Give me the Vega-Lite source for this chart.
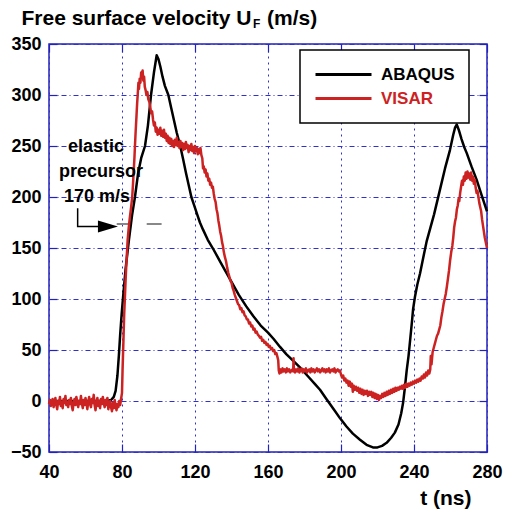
{
  "$schema": "https://vega.github.io/schema/vega-lite/v6.json",
  "width": 438,
  "height": 408,
  "autosize": {"type": "none"},
  "padding": {"left": 49, "top": 44, "right": 25, "bottom": 62},
  "background": "white",
  "config": {
    "font": "Liberation Sans",
    "view": {"stroke": "#2222bb", "strokeWidth": 1.5},
    "axis": {"labelFont": "Liberation Sans", "titleFont": "Liberation Sans"}
  },
  "datasets": {
    "curves": [
      {"t":40,"v":0,"s":"ABAQUS"},{"t":60,"v":0,"s":"ABAQUS"},{"t":72,"v":0,"s":"ABAQUS"},{"t":74,"v":1,"s":"ABAQUS"},{"t":75.5,"v":4,"s":"ABAQUS"},{"t":76.5,"v":10,"s":"ABAQUS"},{"t":77.5,"v":25,"s":"ABAQUS"},{"t":78.3,"v":45,"s":"ABAQUS"},{"t":79,"v":65,"s":"ABAQUS"},{"t":79.8,"v":85,"s":"ABAQUS"},{"t":80.5,"v":100,"s":"ABAQUS"},{"t":82,"v":130,"s":"ABAQUS"},{"t":83.8,"v":158,"s":"ABAQUS"},{"t":85.5,"v":182,"s":"ABAQUS"},{"t":87.1,"v":200,"s":"ABAQUS"},{"t":88.8,"v":223,"s":"ABAQUS"},{"t":90.5,"v":238,"s":"ABAQUS"},{"t":92.6,"v":250,"s":"ABAQUS"},{"t":94.2,"v":270,"s":"ABAQUS"},{"t":95.9,"v":300,"s":"ABAQUS"},{"t":97.5,"v":322,"s":"ABAQUS"},{"t":99,"v":339,"s":"ABAQUS"},{"t":100,"v":335,"s":"ABAQUS"},{"t":101,"v":328,"s":"ABAQUS"},{"t":102.2,"v":318,"s":"ABAQUS"},{"t":103.5,"v":309,"s":"ABAQUS"},{"t":105.4,"v":300,"s":"ABAQUS"},{"t":107,"v":287,"s":"ABAQUS"},{"t":108.5,"v":275,"s":"ABAQUS"},{"t":110,"v":263,"s":"ABAQUS"},{"t":111.8,"v":251,"s":"ABAQUS"},{"t":113.5,"v":237,"s":"ABAQUS"},{"t":115,"v":224,"s":"ABAQUS"},{"t":116.5,"v":212,"s":"ABAQUS"},{"t":118,"v":200,"s":"ABAQUS"},{"t":119.5,"v":192,"s":"ABAQUS"},{"t":121,"v":184,"s":"ABAQUS"},{"t":122.7,"v":175,"s":"ABAQUS"},{"t":124.4,"v":168,"s":"ABAQUS"},{"t":127,"v":158,"s":"ABAQUS"},{"t":130,"v":149,"s":"ABAQUS"},{"t":134,"v":136,"s":"ABAQUS"},{"t":139,"v":120,"s":"ABAQUS"},{"t":144,"v":104,"s":"ABAQUS"},{"t":148,"v":93,"s":"ABAQUS"},{"t":152,"v":83,"s":"ABAQUS"},{"t":156,"v":74,"s":"ABAQUS"},{"t":160,"v":67,"s":"ABAQUS"},{"t":163,"v":61,"s":"ABAQUS"},{"t":166.6,"v":53,"s":"ABAQUS"},{"t":170,"v":46,"s":"ABAQUS"},{"t":174,"v":39,"s":"ABAQUS"},{"t":177.5,"v":33,"s":"ABAQUS"},{"t":182,"v":24,"s":"ABAQUS"},{"t":186,"v":16,"s":"ABAQUS"},{"t":188.5,"v":11,"s":"ABAQUS"},{"t":192,"v":2,"s":"ABAQUS"},{"t":196,"v":-8,"s":"ABAQUS"},{"t":199.5,"v":-17,"s":"ABAQUS"},{"t":203,"v":-25,"s":"ABAQUS"},{"t":206.5,"v":-32,"s":"ABAQUS"},{"t":210.4,"v":-38,"s":"ABAQUS"},{"t":214,"v":-43,"s":"ABAQUS"},{"t":217.5,"v":-45.5,"s":"ABAQUS"},{"t":220,"v":-45.5,"s":"ABAQUS"},{"t":222.5,"v":-44,"s":"ABAQUS"},{"t":225,"v":-41,"s":"ABAQUS"},{"t":227.5,"v":-36,"s":"ABAQUS"},{"t":229.5,"v":-31,"s":"ABAQUS"},{"t":231.5,"v":-23,"s":"ABAQUS"},{"t":233,"v":-12,"s":"ABAQUS"},{"t":234,"v":-2,"s":"ABAQUS"},{"t":235,"v":13,"s":"ABAQUS"},{"t":236,"v":30,"s":"ABAQUS"},{"t":237,"v":44,"s":"ABAQUS"},{"t":238,"v":62,"s":"ABAQUS"},{"t":239,"v":80,"s":"ABAQUS"},{"t":239.5,"v":90,"s":"ABAQUS"},{"t":240.5,"v":102,"s":"ABAQUS"},{"t":241.8,"v":114,"s":"ABAQUS"},{"t":243.3,"v":125,"s":"ABAQUS"},{"t":245,"v":140,"s":"ABAQUS"},{"t":247,"v":157,"s":"ABAQUS"},{"t":249,"v":170,"s":"ABAQUS"},{"t":251,"v":183,"s":"ABAQUS"},{"t":254.2,"v":207,"s":"ABAQUS"},{"t":257,"v":228,"s":"ABAQUS"},{"t":259.7,"v":246,"s":"ABAQUS"},{"t":261.5,"v":261,"s":"ABAQUS"},{"t":262.5,"v":268,"s":"ABAQUS"},{"t":263.4,"v":271,"s":"ABAQUS"},{"t":264.5,"v":266,"s":"ABAQUS"},{"t":266,"v":257,"s":"ABAQUS"},{"t":267.5,"v":249,"s":"ABAQUS"},{"t":268.9,"v":243,"s":"ABAQUS"},{"t":271.5,"v":230,"s":"ABAQUS"},{"t":274.3,"v":217,"s":"ABAQUS"},{"t":277,"v":202,"s":"ABAQUS"},{"t":280,"v":186,"s":"ABAQUS"},
      {"t":40,"v":-3,"s":"VISAR"},{"t":40.5,"v":1,"s":"VISAR"},{"t":41,"v":-5,"s":"VISAR"},{"t":41.5,"v":-1,"s":"VISAR"},{"t":42,"v":2,"s":"VISAR"},{"t":42.5,"v":-6,"s":"VISAR"},{"t":43,"v":-2,"s":"VISAR"},{"t":43.5,"v":3,"s":"VISAR"},{"t":44,"v":-4,"s":"VISAR"},{"t":44.5,"v":-8,"s":"VISAR"},{"t":45,"v":0,"s":"VISAR"},{"t":45.5,"v":-3,"s":"VISAR"},{"t":46,"v":4,"s":"VISAR"},{"t":46.5,"v":-5,"s":"VISAR"},{"t":47,"v":-1,"s":"VISAR"},{"t":47.5,"v":-7,"s":"VISAR"},{"t":48,"v":2,"s":"VISAR"},{"t":48.5,"v":-2,"s":"VISAR"},{"t":49,"v":5,"s":"VISAR"},{"t":49.5,"v":-4,"s":"VISAR"},{"t":50,"v":-1,"s":"VISAR"},{"t":50.5,"v":-6,"s":"VISAR"},{"t":51,"v":1,"s":"VISAR"},{"t":51.5,"v":-3,"s":"VISAR"},{"t":52,"v":3,"s":"VISAR"},{"t":52.5,"v":-5,"s":"VISAR"},{"t":53,"v":-9,"s":"VISAR"},{"t":53.5,"v":-2,"s":"VISAR"},{"t":54,"v":2,"s":"VISAR"},{"t":54.5,"v":-4,"s":"VISAR"},{"t":55,"v":4,"s":"VISAR"},{"t":55.5,"v":-1,"s":"VISAR"},{"t":56,"v":-6,"s":"VISAR"},{"t":56.5,"v":0,"s":"VISAR"},{"t":57,"v":-3,"s":"VISAR"},{"t":57.5,"v":5,"s":"VISAR"},{"t":58,"v":-2,"s":"VISAR"},{"t":58.5,"v":-7,"s":"VISAR"},{"t":59,"v":1,"s":"VISAR"},{"t":59.5,"v":-4,"s":"VISAR"},{"t":60,"v":3,"s":"VISAR"},{"t":60.5,"v":-2,"s":"VISAR"},{"t":61,"v":-8,"s":"VISAR"},{"t":61.5,"v":-1,"s":"VISAR"},{"t":62,"v":4,"s":"VISAR"},{"t":62.5,"v":-3,"s":"VISAR"},{"t":63,"v":-6,"s":"VISAR"},{"t":63.5,"v":2,"s":"VISAR"},{"t":64,"v":-2,"s":"VISAR"},{"t":64.5,"v":6,"s":"VISAR"},{"t":65,"v":-4,"s":"VISAR"},{"t":65.5,"v":-9,"s":"VISAR"},{"t":66,"v":-1,"s":"VISAR"},{"t":66.5,"v":3,"s":"VISAR"},{"t":67,"v":-5,"s":"VISAR"},{"t":67.5,"v":0,"s":"VISAR"},{"t":68,"v":-7,"s":"VISAR"},{"t":68.5,"v":2,"s":"VISAR"},{"t":69,"v":-3,"s":"VISAR"},{"t":69.5,"v":4,"s":"VISAR"},{"t":70,"v":-2,"s":"VISAR"},{"t":70.5,"v":-6,"s":"VISAR"},{"t":71,"v":1,"s":"VISAR"},{"t":71.5,"v":-4,"s":"VISAR"},{"t":72,"v":3,"s":"VISAR"},{"t":72.5,"v":-8,"s":"VISAR"},{"t":73,"v":-3,"s":"VISAR"},{"t":73.5,"v":0,"s":"VISAR"},{"t":74,"v":-6,"s":"VISAR"},{"t":74.5,"v":-10,"s":"VISAR"},{"t":75,"v":-2,"s":"VISAR"},{"t":75.5,"v":-7,"s":"VISAR"},{"t":76,"v":1,"s":"VISAR"},{"t":76.5,"v":-5,"s":"VISAR"},{"t":77,"v":-9,"s":"VISAR"},{"t":77.5,"v":-3,"s":"VISAR"},{"t":78,"v":-6,"s":"VISAR"},{"t":78.5,"v":0,"s":"VISAR"},{"t":79,"v":-4,"s":"VISAR"},{"t":79.5,"v":2,"s":"VISAR"},
      {"t":80,"v":8,"s":"VISAR"},{"t":80.3,"v":30,"s":"VISAR"},{"t":80.8,"v":60,"s":"VISAR"},{"t":81.2,"v":85,"s":"VISAR"},{"t":81.6,"v":102,"s":"VISAR"},{"t":82,"v":120,"s":"VISAR"},{"t":82.4,"v":135,"s":"VISAR"},{"t":82.8,"v":148,"s":"VISAR"},{"t":83.1,"v":158,"s":"VISAR"},{"t":83.7,"v":170,"s":"VISAR"},{"t":84.3,"v":180,"s":"VISAR"},{"t":85,"v":190,"s":"VISAR"},{"t":85.6,"v":200,"s":"VISAR"},{"t":86,"v":212,"s":"VISAR"},{"t":86.4,"v":225,"s":"VISAR"},{"t":86.8,"v":238,"s":"VISAR"},{"t":87.1,"v":250,"s":"VISAR"},{"t":87.5,"v":265,"s":"VISAR"},{"t":87.9,"v":278,"s":"VISAR"},{"t":88.3,"v":292,"s":"VISAR"},{"t":88.6,"v":300,"s":"VISAR"},{"t":89,"v":312,"s":"VISAR"},{"t":89.3,"v":306,"s":"VISAR"},{"t":89.7,"v":316,"s":"VISAR"},{"t":90.1,"v":312,"s":"VISAR"},{"t":90.5,"v":322,"s":"VISAR"},{"t":90.9,"v":318,"s":"VISAR"},{"t":91.3,"v":324,"s":"VISAR"},{"t":91.7,"v":314,"s":"VISAR"},{"t":92.1,"v":318,"s":"VISAR"},{"t":92.5,"v":308,"s":"VISAR"},{"t":92.9,"v":305,"s":"VISAR"},{"t":93.4,"v":300,"s":"VISAR"},{"t":93.9,"v":303,"s":"VISAR"},{"t":94.4,"v":296,"s":"VISAR"},{"t":95,"v":293,"s":"VISAR"},{"t":95.5,"v":288,"s":"VISAR"},{"t":96,"v":282,"s":"VISAR"},{"t":96.5,"v":284,"s":"VISAR"},{"t":97,"v":276,"s":"VISAR"},{"t":97.5,"v":270,"s":"VISAR"},{"t":98,"v":273,"s":"VISAR"},{"t":98.5,"v":264,"s":"VISAR"},{"t":99,"v":268,"s":"VISAR"},{"t":99.5,"v":261,"s":"VISAR"},{"t":100,"v":266,"s":"VISAR"},{"t":100.5,"v":262,"s":"VISAR"},{"t":101,"v":268,"s":"VISAR"},{"t":101.5,"v":260,"s":"VISAR"},{"t":102,"v":265,"s":"VISAR"},{"t":102.5,"v":259,"s":"VISAR"},{"t":103,"v":266,"s":"VISAR"},{"t":103.5,"v":258,"s":"VISAR"},{"t":104,"v":262,"s":"VISAR"},{"t":104.5,"v":255,"s":"VISAR"},{"t":105,"v":260,"s":"VISAR"},{"t":105.5,"v":253,"s":"VISAR"},{"t":106,"v":258,"s":"VISAR"},{"t":106.5,"v":252,"s":"VISAR"},{"t":107,"v":257,"s":"VISAR"},{"t":107.5,"v":250,"s":"VISAR"},{"t":108,"v":255,"s":"VISAR"},{"t":108.5,"v":249,"s":"VISAR"},{"t":109,"v":256,"s":"VISAR"},{"t":109.5,"v":251,"s":"VISAR"},{"t":110,"v":258,"s":"VISAR"},{"t":110.5,"v":250,"s":"VISAR"},{"t":111,"v":254,"s":"VISAR"},{"t":111.5,"v":248,"s":"VISAR"},{"t":112,"v":255,"s":"VISAR"},{"t":112.5,"v":249,"s":"VISAR"},{"t":113,"v":253,"s":"VISAR"},{"t":113.5,"v":246,"s":"VISAR"},{"t":114,"v":252,"s":"VISAR"},{"t":114.5,"v":247,"s":"VISAR"},{"t":115,"v":254,"s":"VISAR"},{"t":115.5,"v":248,"s":"VISAR"},{"t":116,"v":251,"s":"VISAR"},{"t":116.5,"v":244,"s":"VISAR"},{"t":117,"v":250,"s":"VISAR"},{"t":117.5,"v":246,"s":"VISAR"},{"t":118,"v":252,"s":"VISAR"},{"t":118.5,"v":245,"s":"VISAR"},{"t":119,"v":249,"s":"VISAR"},{"t":119.5,"v":243,"s":"VISAR"},{"t":120,"v":250,"s":"VISAR"},{"t":120.5,"v":245,"s":"VISAR"},{"t":121,"v":248,"s":"VISAR"},{"t":121.5,"v":242,"s":"VISAR"},{"t":122,"v":247,"s":"VISAR"},{"t":122.5,"v":243,"s":"VISAR"},{"t":123,"v":248,"s":"VISAR"},{"t":123.5,"v":241,"s":"VISAR"},{"t":124,"v":238,"s":"VISAR"},{"t":124.4,"v":228,"s":"VISAR"},{"t":124.8,"v":230,"s":"VISAR"},{"t":125.3,"v":224,"s":"VISAR"},{"t":125.8,"v":227,"s":"VISAR"},{"t":126.3,"v":220,"s":"VISAR"},{"t":126.8,"v":223,"s":"VISAR"},{"t":127.3,"v":216,"s":"VISAR"},{"t":127.8,"v":218,"s":"VISAR"},{"t":128.3,"v":212,"s":"VISAR"},{"t":128.8,"v":214,"s":"VISAR"},{"t":129.3,"v":209,"s":"VISAR"},{"t":129.8,"v":210,"s":"VISAR"},{"t":130.3,"v":203,"s":"VISAR"},{"t":130.8,"v":198,"s":"VISAR"},{"t":131.3,"v":195,"s":"VISAR"},{"t":131.8,"v":188,"s":"VISAR"},{"t":132.3,"v":184,"s":"VISAR"},{"t":132.8,"v":177,"s":"VISAR"},{"t":133.3,"v":172,"s":"VISAR"},{"t":133.8,"v":166,"s":"VISAR"},{"t":134.3,"v":162,"s":"VISAR"},{"t":134.8,"v":156,"s":"VISAR"},{"t":135.3,"v":152,"s":"VISAR"},{"t":135.8,"v":146,"s":"VISAR"},{"t":136.4,"v":141,"s":"VISAR"},{"t":137,"v":137,"s":"VISAR"},{"t":137.6,"v":131,"s":"VISAR"},{"t":138.2,"v":126,"s":"VISAR"},{"t":138.8,"v":122,"s":"VISAR"},{"t":139.4,"v":118,"s":"VISAR"},{"t":140,"v":116,"s":"VISAR"},{"t":140.6,"v":111,"s":"VISAR"},{"t":141.2,"v":108,"s":"VISAR"},{"t":141.8,"v":104,"s":"VISAR"},{"t":142.4,"v":101,"s":"VISAR"},{"t":143,"v":98,"s":"VISAR"},{"t":143.6,"v":95,"s":"VISAR"},{"t":144.2,"v":94,"s":"VISAR"},{"t":144.8,"v":90,"s":"VISAR"},{"t":145.4,"v":91,"s":"VISAR"},{"t":146,"v":87,"s":"VISAR"},{"t":146.6,"v":88,"s":"VISAR"},{"t":147.2,"v":84,"s":"VISAR"},{"t":147.8,"v":83,"s":"VISAR"},{"t":148.4,"v":80,"s":"VISAR"},{"t":149,"v":80,"s":"VISAR"},{"t":149.6,"v":76,"s":"VISAR"},{"t":150.2,"v":77,"s":"VISAR"},{"t":150.8,"v":73,"s":"VISAR"},{"t":151.4,"v":74,"s":"VISAR"},{"t":152,"v":70,"s":"VISAR"},{"t":152.6,"v":71,"s":"VISAR"},{"t":153.2,"v":67,"s":"VISAR"},{"t":153.8,"v":68,"s":"VISAR"},{"t":154.4,"v":65,"s":"VISAR"},{"t":155,"v":64,"s":"VISAR"},{"t":155.6,"v":62,"s":"VISAR"},{"t":156.2,"v":63,"s":"VISAR"},{"t":156.8,"v":59,"s":"VISAR"},{"t":157.4,"v":60,"s":"VISAR"},{"t":158,"v":57,"s":"VISAR"},{"t":158.6,"v":58,"s":"VISAR"},{"t":159.2,"v":55,"s":"VISAR"},{"t":159.8,"v":56,"s":"VISAR"},{"t":160.4,"v":53,"s":"VISAR"},{"t":161,"v":54,"s":"VISAR"},{"t":161.6,"v":51,"s":"VISAR"},{"t":162.2,"v":52,"s":"VISAR"},{"t":162.8,"v":49,"s":"VISAR"},{"t":163.4,"v":50,"s":"VISAR"},{"t":164,"v":46,"s":"VISAR"},{"t":164.6,"v":47,"s":"VISAR"},{"t":165.2,"v":43,"s":"VISAR"},{"t":165.6,"v":40,"s":"VISAR"},{"t":165.9,"v":30,"s":"VISAR"},{"t":166.3,"v":27,"s":"VISAR"},
      {"t":166.8,"v":31,"s":"VISAR"},{"t":167.4,"v":28,"s":"VISAR"},{"t":168,"v":32,"s":"VISAR"},{"t":168.6,"v":29,"s":"VISAR"},{"t":169.2,"v":31,"s":"VISAR"},{"t":169.8,"v":28,"s":"VISAR"},{"t":170.4,"v":32,"s":"VISAR"},{"t":171,"v":29,"s":"VISAR"},{"t":171.6,"v":31,"s":"VISAR"},{"t":172.2,"v":28,"s":"VISAR"},{"t":172.8,"v":30,"s":"VISAR"},{"t":173.4,"v":31,"s":"VISAR"},{"t":173.8,"v":29,"s":"VISAR"},{"t":174,"v":42,"s":"VISAR"},{"t":174.2,"v":30,"s":"VISAR"},{"t":174.8,"v":28,"s":"VISAR"},{"t":175.4,"v":31,"s":"VISAR"},{"t":176,"v":29,"s":"VISAR"},{"t":176.6,"v":32,"s":"VISAR"},{"t":177.2,"v":28,"s":"VISAR"},{"t":177.8,"v":30,"s":"VISAR"},{"t":178.4,"v":32,"s":"VISAR"},{"t":179,"v":28,"s":"VISAR"},{"t":179.6,"v":31,"s":"VISAR"},{"t":180.2,"v":29,"s":"VISAR"},{"t":180.8,"v":32,"s":"VISAR"},{"t":181.4,"v":28,"s":"VISAR"},{"t":182,"v":30,"s":"VISAR"},{"t":182.6,"v":31,"s":"VISAR"},{"t":183.2,"v":28,"s":"VISAR"},{"t":183.8,"v":32,"s":"VISAR"},{"t":184.4,"v":29,"s":"VISAR"},{"t":185,"v":31,"s":"VISAR"},{"t":185.6,"v":28,"s":"VISAR"},{"t":186.2,"v":30,"s":"VISAR"},{"t":186.8,"v":32,"s":"VISAR"},{"t":187.4,"v":29,"s":"VISAR"},{"t":188,"v":31,"s":"VISAR"},{"t":188.6,"v":28,"s":"VISAR"},{"t":189.2,"v":30,"s":"VISAR"},{"t":189.8,"v":32,"s":"VISAR"},{"t":190.4,"v":29,"s":"VISAR"},{"t":191,"v":31,"s":"VISAR"},{"t":191.6,"v":28,"s":"VISAR"},{"t":192.2,"v":31,"s":"VISAR"},{"t":192.8,"v":29,"s":"VISAR"},{"t":193.4,"v":32,"s":"VISAR"},{"t":194,"v":28,"s":"VISAR"},{"t":194.6,"v":30,"s":"VISAR"},{"t":195.2,"v":31,"s":"VISAR"},{"t":195.8,"v":29,"s":"VISAR"},{"t":196.4,"v":32,"s":"VISAR"},{"t":197,"v":28,"s":"VISAR"},{"t":197.6,"v":30,"s":"VISAR"},{"t":198.2,"v":31,"s":"VISAR"},{"t":198.8,"v":29,"s":"VISAR"},{"t":199.4,"v":30,"s":"VISAR"},{"t":200,"v":26,"s":"VISAR"},{"t":200.6,"v":23,"s":"VISAR"},{"t":201.2,"v":25,"s":"VISAR"},{"t":201.8,"v":20,"s":"VISAR"},{"t":202.4,"v":22,"s":"VISAR"},{"t":203,"v":18,"s":"VISAR"},{"t":203.6,"v":20,"s":"VISAR"},{"t":204.2,"v":15,"s":"VISAR"},{"t":204.8,"v":19,"s":"VISAR"},{"t":205.4,"v":14,"s":"VISAR"},{"t":206,"v":17,"s":"VISAR"},{"t":206.5,"v":9,"s":"VISAR"},{"t":207,"v":15,"s":"VISAR"},{"t":207.6,"v":11,"s":"VISAR"},{"t":208.2,"v":14,"s":"VISAR"},{"t":208.8,"v":10,"s":"VISAR"},{"t":209.4,"v":13,"s":"VISAR"},{"t":210,"v":8,"s":"VISAR"},{"t":210.6,"v":12,"s":"VISAR"},{"t":211.2,"v":7,"s":"VISAR"},{"t":211.8,"v":11,"s":"VISAR"},{"t":212.4,"v":6,"s":"VISAR"},{"t":213,"v":10,"s":"VISAR"},{"t":213.6,"v":7,"s":"VISAR"},{"t":214.2,"v":10,"s":"VISAR"},{"t":214.8,"v":5,"s":"VISAR"},{"t":215.4,"v":9,"s":"VISAR"},{"t":216,"v":6,"s":"VISAR"},{"t":216.6,"v":9,"s":"VISAR"},{"t":217.2,"v":4,"s":"VISAR"},{"t":217.8,"v":8,"s":"VISAR"},{"t":218.4,"v":3,"s":"VISAR"},{"t":219,"v":7,"s":"VISAR"},{"t":219.6,"v":2,"s":"VISAR"},{"t":220.2,"v":6,"s":"VISAR"},{"t":220.8,"v":1,"s":"VISAR"},{"t":221.4,"v":5,"s":"VISAR"},{"t":222,"v":3,"s":"VISAR"},{"t":222.6,"v":7,"s":"VISAR"},{"t":223.2,"v":4,"s":"VISAR"},{"t":223.8,"v":8,"s":"VISAR"},{"t":224.4,"v":5,"s":"VISAR"},{"t":225,"v":9,"s":"VISAR"},{"t":225.6,"v":6,"s":"VISAR"},{"t":226.2,"v":10,"s":"VISAR"},{"t":226.8,"v":7,"s":"VISAR"},{"t":227.4,"v":11,"s":"VISAR"},{"t":228,"v":8,"s":"VISAR"},{"t":228.6,"v":12,"s":"VISAR"},{"t":229.2,"v":9,"s":"VISAR"},{"t":229.8,"v":13,"s":"VISAR"},{"t":230.4,"v":10,"s":"VISAR"},{"t":231,"v":13,"s":"VISAR"},{"t":231.6,"v":11,"s":"VISAR"},{"t":232.2,"v":14,"s":"VISAR"},{"t":232.8,"v":12,"s":"VISAR"},{"t":233.4,"v":15,"s":"VISAR"},{"t":234,"v":12,"s":"VISAR"},{"t":234.6,"v":16,"s":"VISAR"},{"t":235.2,"v":13,"s":"VISAR"},{"t":235.8,"v":17,"s":"VISAR"},{"t":236.4,"v":14,"s":"VISAR"},{"t":237,"v":17,"s":"VISAR"},{"t":237.6,"v":15,"s":"VISAR"},{"t":238.2,"v":18,"s":"VISAR"},{"t":238.8,"v":16,"s":"VISAR"},{"t":239.4,"v":19,"s":"VISAR"},{"t":240,"v":17,"s":"VISAR"},{"t":240.6,"v":20,"s":"VISAR"},{"t":241.2,"v":18,"s":"VISAR"},{"t":241.8,"v":21,"s":"VISAR"},{"t":242.4,"v":19,"s":"VISAR"},{"t":243,"v":22,"s":"VISAR"},{"t":243.6,"v":20,"s":"VISAR"},{"t":244.2,"v":24,"s":"VISAR"},{"t":244.8,"v":22,"s":"VISAR"},{"t":245.4,"v":26,"s":"VISAR"},{"t":246,"v":23,"s":"VISAR"},{"t":246.6,"v":28,"s":"VISAR"},{"t":247.2,"v":25,"s":"VISAR"},{"t":247.8,"v":30,"s":"VISAR"},{"t":248.4,"v":27,"s":"VISAR"},{"t":248.9,"v":31,"s":"VISAR"},{"t":249.2,"v":44,"s":"VISAR"},{"t":249.6,"v":36,"s":"VISAR"},{"t":250.2,"v":48,"s":"VISAR"},{"t":250.8,"v":52,"s":"VISAR"},{"t":251.4,"v":56,"s":"VISAR"},{"t":252,"v":60,"s":"VISAR"},{"t":252.6,"v":64,"s":"VISAR"},{"t":253.2,"v":66,"s":"VISAR"},{"t":253.8,"v":70,"s":"VISAR"},{"t":254.4,"v":74,"s":"VISAR"},{"t":255,"v":82,"s":"VISAR"},{"t":255.6,"v":88,"s":"VISAR"},{"t":256.2,"v":95,"s":"VISAR"},{"t":256.8,"v":100,"s":"VISAR"},{"t":257.4,"v":105,"s":"VISAR"},{"t":258,"v":112,"s":"VISAR"},{"t":258.6,"v":120,"s":"VISAR"},{"t":259.2,"v":128,"s":"VISAR"},{"t":259.8,"v":138,"s":"VISAR"},{"t":260.4,"v":146,"s":"VISAR"},{"t":261,"v":152,"s":"VISAR"},{"t":261.5,"v":160,"s":"VISAR"},{"t":262,"v":170,"s":"VISAR"},{"t":262.5,"v":176,"s":"VISAR"},{"t":263,"v":180,"s":"VISAR"},{"t":263.5,"v":188,"s":"VISAR"},{"t":264,"v":192,"s":"VISAR"},{"t":264.4,"v":198,"s":"VISAR"},{"t":264.8,"v":196,"s":"VISAR"},{"t":265.3,"v":204,"s":"VISAR"},{"t":265.8,"v":210,"s":"VISAR"},{"t":266.3,"v":216,"s":"VISAR"},{"t":266.8,"v":212,"s":"VISAR"},{"t":267.3,"v":220,"s":"VISAR"},{"t":267.8,"v":216,"s":"VISAR"},{"t":268.3,"v":224,"s":"VISAR"},{"t":268.8,"v":218,"s":"VISAR"},{"t":269.3,"v":225,"s":"VISAR"},{"t":269.8,"v":219,"s":"VISAR"},{"t":270.3,"v":223,"s":"VISAR"},{"t":270.8,"v":217,"s":"VISAR"},{"t":271.3,"v":224,"s":"VISAR"},{"t":271.8,"v":216,"s":"VISAR"},{"t":272.3,"v":220,"s":"VISAR"},{"t":272.8,"v":213,"s":"VISAR"},{"t":273.3,"v":217,"s":"VISAR"},{"t":273.8,"v":209,"s":"VISAR"},{"t":274.3,"v":204,"s":"VISAR"},{"t":274.8,"v":206,"s":"VISAR"},{"t":275.3,"v":200,"s":"VISAR"},{"t":275.8,"v":194,"s":"VISAR"},{"t":276.3,"v":190,"s":"VISAR"},{"t":276.8,"v":186,"s":"VISAR"},{"t":277.3,"v":178,"s":"VISAR"},{"t":277.8,"v":172,"s":"VISAR"},{"t":278.3,"v":166,"s":"VISAR"},{"t":278.8,"v":160,"s":"VISAR"},{"t":279.3,"v":156,"s":"VISAR"},{"t":280,"v":150,"s":"VISAR"}
    ],
    "arrow": [
      {"t": 55.7, "v": 189, "o": 0},
      {"t": 55.7, "v": 171, "o": 1},
      {"t": 67, "v": 171, "o": 2}
    ],
    "head": [{"t": 72.3, "v": 171}],
    "dash": [{"t": 77.1, "t2": 101.7, "v": 173.5}],
    "notes": [
      {"t": 65.75, "v": 244, "label": "elastic"},
      {"t": 68.5, "v": 219.6, "label": "precursor"},
      {"t": 66.3, "v": 195.1, "label": "170 m/s"}
    ],
    "titleparts": [
      {"t": 151.8, "v": 365.4, "label": "F", "k": "sub"},
      {"t": 159.45, "v": 369.1, "label": "(m/s)", "k": "main"}
    ]
  },
  "resolve": {"axis": {"x": "independent", "y": "independent"}},
  "layer": [
    {
      "data": {"name": "dash"},
      "mark": {"type": "rule", "color": "#888888", "strokeWidth": 2, "strokeDash": [15, 15]},
      "encoding": {
        "x": {"field": "t", "type": "quantitative", "scale": {"domain": [40, 280], "nice": false, "zero": false},
          "axis": {"orient": "top", "values": [40, 80, 120, 160, 200, 240, 280], "labels": false, "grid": false, "domain": false, "ticks": true, "tickSize": -8, "tickColor": "#2222bb", "tickWidth": 1.2, "title": null}},
        "x2": {"field": "t2"},
        "y": {"field": "v", "type": "quantitative", "scale": {"domain": [-50, 350], "nice": false, "zero": false},
          "axis": {"orient": "right", "values": [-50, 0, 50, 100, 150, 200, 250, 300, 350], "labels": false, "grid": false, "domain": false, "ticks": true, "tickSize": -8, "tickColor": "#2222bb", "tickWidth": 1.2, "title": null}}
      }
    },
    {
      "data": {"name": "curves"},
      "mark": {"type": "line", "strokeWidth": 2.5, "strokeJoin": "round"},
      "encoding": {
        "x": {"field": "t", "type": "quantitative", "scale": {"domain": [40, 280], "nice": false, "zero": false},
          "axis": {"orient": "bottom", "values": [40, 80, 120, 160, 200, 240, 280], "grid": true, "gridColor": "#3030cc", "gridDash": [2, 4], "gridWidth": 1, "domain": false, "ticks": true, "tickSize": -8, "tickColor": "#2222bb", "tickWidth": 1.2,
            "labelFontSize": 18, "labelFontWeight": "bold", "labelColor": "#000000", "labelPadding": 19, "labelFlush": false, "labelOverlap": false,
            "title": "t (ns)", "titleFontSize": 21, "titleFontWeight": "bold", "titleColor": "#000000", "titleX": 422, "titleY": 52, "titleAlign": "right", "titleBaseline": "alphabetic", "titleAnchor": null}},
        "y": {"field": "v", "type": "quantitative", "scale": {"domain": [-50, 350], "nice": false, "zero": false},
          "axis": {"orient": "left", "values": [-50, 0, 50, 100, 150, 200, 250, 300, 350], "grid": true, "gridColor": "#3030cc", "gridDash": [5, 3, 1, 3], "gridWidth": 1, "domain": false, "ticks": true, "tickSize": -8, "tickColor": "#2222bb", "tickWidth": 1.2,
            "labelFontSize": 18, "labelFontWeight": "bold", "labelColor": "#000000", "labelPadding": 16, "labelFlush": false, "labelOverlap": false, "labelBaseline": "middle",
            "title": "Free surface velocity U", "titleFontSize": 21, "titleFontWeight": "bold", "titleColor": "#000000", "titleAngle": 0, "titleX": -28, "titleY": -19.5, "titleAlign": "left", "titleBaseline": "alphabetic", "titleAnchor": null}},
        "color": {"field": "s", "type": "nominal", "scale": {"domain": ["ABAQUS", "VISAR"], "range": ["#000000", "#cc2222"]},
          "legend": {"orient": "none", "legendX": 251, "legendY": 6, "title": null, "direction": "vertical",
            "fillColor": "#ffffff", "strokeColor": "#000000", "padding": 14,
            "symbolType": "stroke", "symbolSize": 3136, "symbolStrokeWidth": 3, "clipHeight": 21,
            "labelFontSize": 17, "labelFontWeight": "bold", "labelOffset": 8, "rowPadding": 3,
            "encode": {
              "legend": {"update": {"strokeWidth": {"value": 1.5}}},
              "labels": {"update": {"fill": {"signal": "datum.value === 'VISAR' ? '#cc2222' : '#000000'"}}}
            }}}
      }
    },
    {
      "data": {"name": "arrow"},
      "mark": {"type": "line", "color": "#000000", "strokeWidth": 1.5},
      "encoding": {
        "x": {"field": "t", "type": "quantitative", "axis": null},
        "y": {"field": "v", "type": "quantitative", "axis": null},
        "order": {"field": "o"}
      }
    },
    {
      "data": {"name": "head"},
      "mark": {"type": "point", "shape": "M-1,-0.6L1,0L-1,0.6Z", "size": 400, "filled": true, "color": "#000000", "opacity": 1},
      "encoding": {
        "x": {"field": "t", "type": "quantitative", "axis": null},
        "y": {"field": "v", "type": "quantitative", "axis": null}
      }
    },
    {
      "data": {"name": "notes"},
      "mark": {"type": "text", "font": "Liberation Sans", "fontWeight": "bold", "fontSize": 18, "align": "center", "baseline": "alphabetic", "color": "#000000"},
      "encoding": {
        "x": {"field": "t", "type": "quantitative", "axis": null},
        "y": {"field": "v", "type": "quantitative", "axis": null},
        "text": {"field": "label"}
      }
    },
    {
      "data": {"name": "titleparts"},
      "mark": {"type": "text", "font": "Liberation Sans", "fontWeight": "bold", "align": "left", "baseline": "alphabetic", "color": "#000000"},
      "encoding": {
        "x": {"field": "t", "type": "quantitative", "axis": null},
        "y": {"field": "v", "type": "quantitative", "axis": null},
        "text": {"field": "label"},
        "size": {"field": "k", "type": "nominal", "scale": {"domain": ["sub", "main"], "range": [12, 21]}, "legend": null}
      }
    }
  ]
}
